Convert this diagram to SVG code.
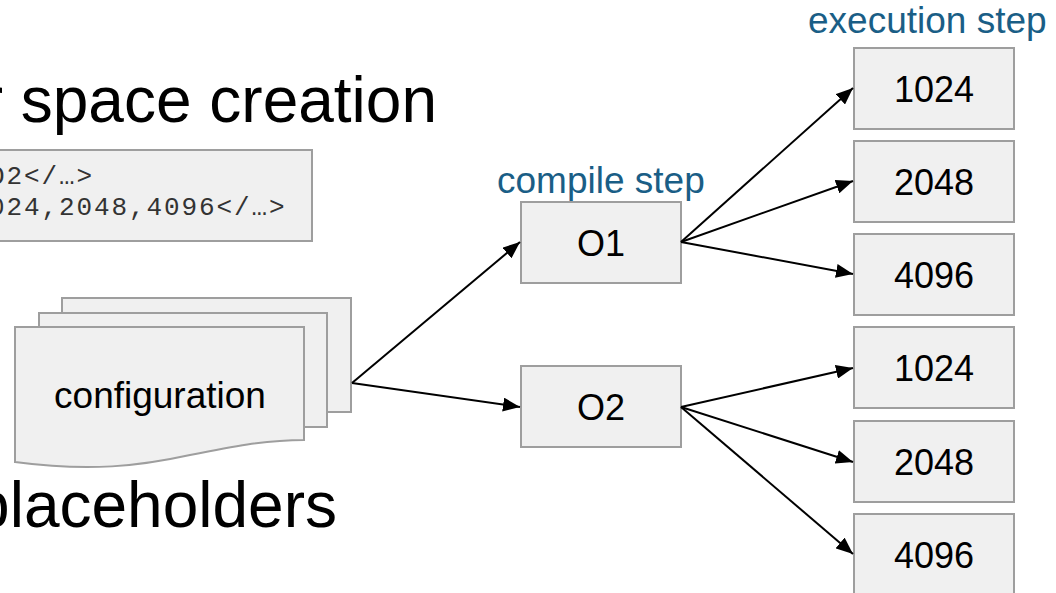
<svg xmlns="http://www.w3.org/2000/svg" width="1056" height="593" viewBox="0 0 1056 593">
<defs>
<style>
.title{font-family:"Liberation Sans",Arial,sans-serif;font-size:64px;fill:#000}
.box{fill:#f0f0f0;stroke:#9e9e9e;stroke-width:2}
.lbl{font-family:"Liberation Sans",Arial,sans-serif;font-size:36px;fill:#000;text-anchor:middle}
.step{font-family:"Liberation Sans",Arial,sans-serif;font-size:37px;fill:#1a5e86}
.code{font-family:"Liberation Mono","Courier New",monospace;font-size:26px;letter-spacing:1.9px;fill:#333}
.edge{stroke:#000;stroke-width:2;fill:none;marker-end:url(#ah)}
</style>
<marker id="ah" markerUnits="userSpaceOnUse" markerWidth="18" markerHeight="14" refX="17" refY="7" orient="auto">
<path d="M0,0 L17,7 L0,14 Z" fill="#000"/>
</marker>
</defs>
<rect width="1056" height="593" fill="#fff"/>

<text class="title" x="437" y="122" text-anchor="end">r space creation</text>
<text class="title" x="337" y="527" text-anchor="end">placeholders</text>

<g id="code">
<rect class="box" x="-10" y="150" width="322" height="91"/>
<text class="code" x="-11" y="184">O2&lt;/…&gt;</text>
<text class="code" x="-11" y="215">024,2048,4096&lt;/…&gt;</text>
</g>

<g id="configuration">
<rect class="box" x="62" y="298" width="289" height="114"/>
<rect class="box" x="39" y="313" width="288" height="114"/>
<path class="box" d="M15,327 H304 V440 C265,440 230,447 190,455 C140,466 90,472 15,462 Z"/>
<text class="lbl" x="160" y="408" style="font-size:37px">configuration</text>
</g>

<text class="step" x="497" y="193">compile step</text>
<text class="step" x="808" y="33">execution step</text>

<g id="O1"><rect class="box" x="521" y="202" width="160" height="81"/><text class="lbl" x="601" y="256">O1</text></g>
<g id="O2"><rect class="box" x="521" y="366" width="160" height="81"/><text class="lbl" x="601" y="420">O2</text></g>

<g id="e1"><rect class="box" x="854" y="48" width="160" height="81"/><text class="lbl" x="934" y="102">1024</text></g>
<g id="e2"><rect class="box" x="854" y="141" width="160" height="81"/><text class="lbl" x="934" y="195">2048</text></g>
<g id="e3"><rect class="box" x="854" y="234" width="160" height="81"/><text class="lbl" x="934" y="288">4096</text></g>
<g id="e4"><rect class="box" x="854" y="327" width="160" height="81"/><text class="lbl" x="934" y="381">1024</text></g>
<g id="e5"><rect class="box" x="854" y="421" width="160" height="81"/><text class="lbl" x="934" y="475">2048</text></g>
<g id="e6"><rect class="box" x="854" y="514" width="160" height="81"/><text class="lbl" x="934" y="568">4096</text></g>

<g id="connectors">
<line class="edge" x1="352" y1="383" x2="520" y2="242"/>
<line class="edge" x1="352" y1="383" x2="520" y2="407"/>
<line class="edge" x1="681" y1="242" x2="853" y2="88"/>
<line class="edge" x1="681" y1="242" x2="853" y2="181"/>
<line class="edge" x1="681" y1="242" x2="853" y2="274"/>
<line class="edge" x1="681" y1="407" x2="853" y2="368"/>
<line class="edge" x1="681" y1="407" x2="853" y2="462"/>
<line class="edge" x1="681" y1="407" x2="853" y2="554"/>
</g>
</svg>
